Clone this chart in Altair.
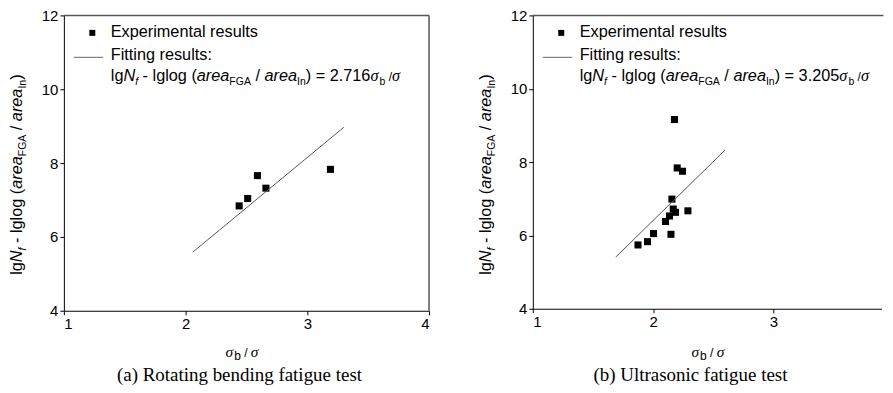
import altair as alt
import pandas as pd

# ---------------- data ----------------
a_x = [2.44, 2.51, 2.59, 2.66, 3.19]
a_y = [6.84, 7.04, 7.66, 7.32, 7.83]
a_fit_x = [2.06, 3.30]
a_fit_y = [5.59, 8.97]
a_coef = "2.716"
a_caption = "(a) Rotating bending fatigue test"

b_x = [1.875, 1.954, 2.004, 2.149, 2.104, 2.137, 2.168, 2.187, 2.157, 2.290, 2.201, 2.245, 2.178]
b_y = [5.74, 5.83, 6.05, 6.03, 6.38, 6.53, 6.72, 6.63, 6.99, 6.67, 7.84, 7.75, 9.16]
b_fit_x = [1.69, 2.60]
b_fit_y = [5.41, 8.33]
b_coef = "3.205"
b_caption = "(b) Ultrasonic fatigue test"

x_ticks = [1, 2, 3, 4]
y_ticks = [4, 6, 8, 10, 12]
a_x_domain = [1, 4]
b_x_domain = [1, 3.9]   # right panel is cut at the page edge
y_domain = [4, 12]
legend_labels = ["Experimental results", "Fitting results:"]

SANS = "Liberation Sans"
SERIF = "Liberation Serif"
FRAME = "#555555"
FS = 16.3

# Arial / Liberation Sans advance widths (per 1000 em)
W = {' ': 278, '-': 333, '(': 333, ')': 333, '/': 278, '=': 584, '.': 278, ':': 278,
     'l': 222, 'g': 556, 'o': 556, 'a': 556, 'r': 333, 'e': 556, 'n': 556, 'b': 556,
     'f': 278, 'i': 222, 't': 278, 's': 500, 'u': 556, 'p': 556, 'm': 833, 'x': 500,
     'F': 611, 'G': 778, 'A': 667, 'I': 278, 'N': 722, 'E': 667, 'σ': 560}
for d in "0123456789":
    W[d] = 556

STY = {
    'n':    dict(font=SANS, style='normal', size=FS, shift=0),
    'i':    dict(font=SANS, style='italic', size=FS, shift=0),
    'sub':  dict(font=SANS, style='normal', size=10.5, shift=4),
    'subi': dict(font=SANS, style='italic', size=10.5, shift=4),
    'sig':  dict(font=SERIF, style='italic', size=FS, shift=0),
    'slash': dict(font=SANS, style='normal', size=12, shift=0),
    'xsig': dict(font=SERIF, style='italic', size=15.5, shift=0),
    'xsub': dict(font=SANS, style='normal', size=12, shift=3),
}


def seg_width(text, size):
    return sum(W.get(c, 556) for c in text) / 1000 * size


def rich(segments, x0, y0, rotate=False):
    rows = []
    pos = 0.0
    for text, kind in segments:
        st = STY[kind]
        stripped = text.lstrip(' ')
        lead = seg_width(text[:len(text) - len(stripped)], st['size'])
        body = stripped.rstrip(' ')
        if body:
            if rotate:
                rows.append(dict(t=body, px=x0 + st['shift'], py=y0 - pos - lead,
                                 fs=st['size'], font=st['font'], style=st['style']))
            else:
                rows.append(dict(t=body, px=x0 + pos + lead, py=y0 + st['shift'],
                                 fs=st['size'], font=st['font'], style=st['style']))
        pos += seg_width(text, st['size'])
    return rows


def text_layers(rows, angle=0):
    df = pd.DataFrame(rows)
    layers = []
    for (font, style), g in df.groupby(['font', 'style']):
        layers.append(
            alt.Chart(g.reset_index(drop=True)).mark_text(
                font=font, fontStyle=style, align='left', baseline='alphabetic',
                angle=angle, color='black'
            ).encode(
                x=alt.X('px:Q', scale=None),
                y=alt.Y('py:Q', scale=None),
                text='t:N',
                size=alt.Size('fs:Q', scale=None, legend=None),
            )
        )
    return layers


def ytitle_segments():
    return [("lg", 'n'), ("N", 'i'), ("f", 'subi'), (" - lglog ", 'n'), ("(", 'n'),
            ("area", 'i'), ("FGA", 'sub'), (" / ", 'n'), ("area", 'i'), ("In", 'sub'),
            (")", 'n')]


def formula_segments(coef):
    return ytitle_segments() + [(" = " + coef, 'n'), ("σ", 'sig'), ("b", 'sub'),
                                (" /", 'slash'), ("σ", 'sig')]


def xtitle_segments():
    return [("σ", 'xsig'), ("b", 'xsub'), (" / ", 'slash'), ("σ", 'xsig')]


one = pd.DataFrame({"k": [0]})


def panel(xs, ys, fx, fy, xdom, coef, caption, w, h, cap_x, xt_x, right_frame):
    xenc = alt.X('x:Q', scale=alt.Scale(domain=xdom, nice=False),
                 axis=alt.Axis(values=x_ticks, title=None, grid=False, format='d'))
    yenc = alt.Y('y:Q', scale=alt.Scale(domain=y_domain, nice=False),
                 axis=alt.Axis(values=y_ticks, title=None, grid=False, format='d'))
    pts = alt.Chart(pd.DataFrame({'x': xs, 'y': ys})).mark_square(
        size=50, color='black', opacity=1).encode(x=xenc, y=yenc)
    fit = alt.Chart(pd.DataFrame({'x': fx, 'y': fy})).mark_line(
        color='#555555', strokeWidth=1).encode(x='x:Q', y='y:Q')

    top_end = w if right_frame else w + 2
    frame = [alt.Chart(one).mark_rule(color=FRAME, strokeWidth=1.5).encode(
        x=alt.value(0), x2=alt.value(top_end), y=alt.value(0))]
    if right_frame:
        frame.append(alt.Chart(one).mark_rule(color=FRAME, strokeWidth=1.5).encode(
            x=alt.value(w), y=alt.value(0), y2=alt.value(h)))

    leg_marker = alt.Chart(one).mark_square(size=36, color='black', opacity=1).encode(
        x=alt.value(28.5), y=alt.value(17.5))
    leg_line = alt.Chart(one).mark_rule(color='#666666', strokeWidth=1).encode(
        x=alt.value(10), x2=alt.value(39.5), y=alt.value(42))
    leg_t1 = alt.Chart(one).mark_text(font=SANS, fontSize=FS, align='left',
                                      baseline='alphabetic', color='black').encode(
        x=alt.value(47), y=alt.value(22), text=alt.value(legend_labels[0]))
    leg_t2 = alt.Chart(one).mark_text(font=SANS, fontSize=FS, align='left',
                                      baseline='alphabetic', color='black').encode(
        x=alt.value(47), y=alt.value(44.5), text=alt.value(legend_labels[1]))

    formula = text_layers(rich(formula_segments(coef), 47, 66))
    ytitle = text_layers(rich(ytitle_segments(), -42.3, 260, rotate=True), angle=270)
    xtitle = text_layers(rich(xtitle_segments(), xt_x, 342))

    cap = alt.Chart(one).mark_text(font=SERIF, fontSize=19, align='center',
                                   baseline='alphabetic', color='black').encode(
        x=alt.value(cap_x), y=alt.value(366), text=alt.value(caption))

    return alt.layer(pts, fit, *frame, leg_marker, leg_line, leg_t1, leg_t2, *formula,
                     *ytitle, *xtitle, cap).properties(width=w, height=h)


left = panel(a_x, a_y, a_fit_x, a_fit_y, a_x_domain, a_coef, a_caption,
             366, 296, 176, 162, True)
right = panel(b_x, b_y, b_fit_x, b_fit_y, b_x_domain, b_coef, b_caption,
              349.5, 294, 158, 159, False)

chart = alt.hconcat(left, right, spacing=104, bounds='flush').properties(
    padding={"left": 0, "top": 0, "right": 0, "bottom": 0}
).configure_view(
    stroke='transparent', strokeWidth=0
).configure_axis(
    domainColor='black', domainWidth=1, tickColor='black', tickSize=4, tickWidth=1,
    labelColor='black', labelFont=SANS, labelFontSize=15, labelPadding=2
)

chart.save("out.html", embed_options={"renderer": "svg", "actions": False})
